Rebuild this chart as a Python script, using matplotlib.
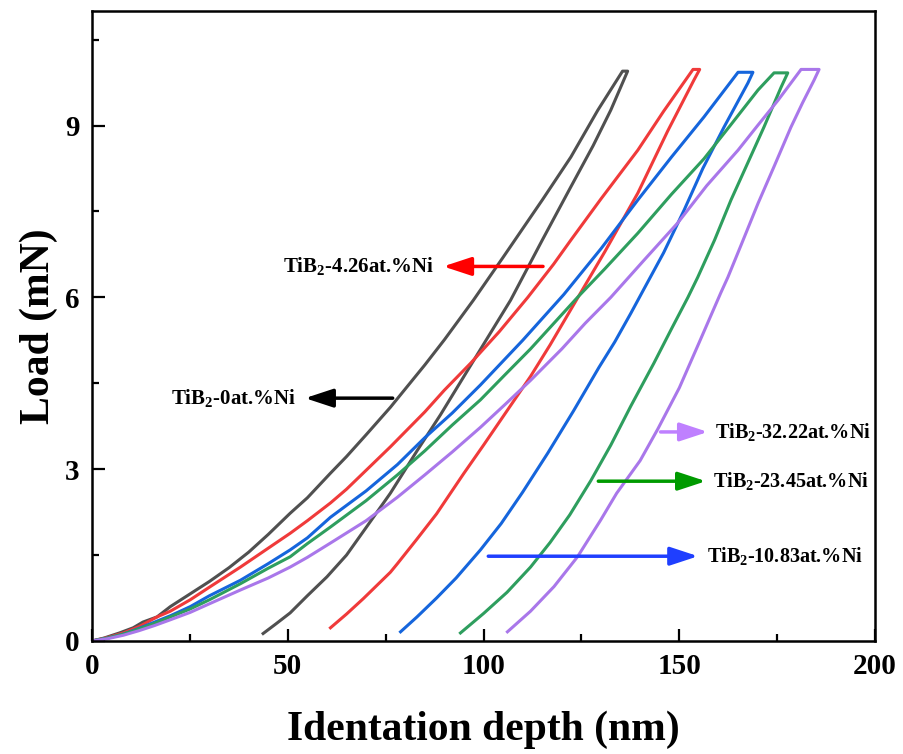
import matplotlib
matplotlib.use('Agg')
import matplotlib.pyplot as plt
from matplotlib.ticker import MultipleLocator

plt.rcParams['font.family'] = ['Liberation Serif', 'DejaVu Serif']
plt.rcParams['font.weight'] = 'bold'
plt.rcParams['mathtext.default'] = 'regular'

# Curvas carga-descarga (profundidad en nm, carga en mN)
depth_0 = [0, 3, 7, 10.5, 13, 16.6, 20, 25, 30, 35, 40, 45, 50.6, 55, 60.9, 65, 70, 76.2, 80, 85, 90,
           97.4, 105, 110, 115, 122.3, 129.2, 135.5,
           136.8, 132.5, 128, 122.3, 115, 106.9, 100, 94.9, 89, 83.1, 76.2, 70, 65, 60, 55, 50.6, 47, 43.7]
load_0 = [0, 0.05, 0.14, 0.23, 0.33, 0.42, 0.6, 0.82, 1.04, 1.28, 1.55, 1.86, 2.23, 2.5, 2.93, 3.22, 3.6,
          4.08, 4.4, 4.82, 5.26, 5.95, 6.7, 7.2, 7.7, 8.45, 9.27, 9.95,
          9.95, 9.27, 8.65, 7.93, 7.0, 5.95, 5.18, 4.61, 3.95, 3.33, 2.58, 1.98, 1.5, 1.12, 0.79, 0.49, 0.3, 0.13]

depth_4 = [0, 4, 8, 12, 16.6, 20, 25.1, 30, 37.9, 45, 50.6, 55, 60.9, 65, 70, 76.2, 85, 90, 96.7, 104,
           111.3, 117.9, 122.3, 130, 139.4, 146, 153.5,
           155.2, 153.7, 147, 139.4, 131, 123, 117, 112, 106, 100, 94.9, 88, 83, 78, 76.2, 72, 69.3, 65, 60.9]
load_4 = [0, 0.06, 0.14, 0.25, 0.42, 0.52, 0.72, 0.94, 1.29, 1.62, 1.88, 2.1, 2.41, 2.65, 2.98, 3.39, 4.0,
          4.38, 4.85, 5.4, 6.0, 6.58, 7.0, 7.72, 8.57, 9.25, 9.98,
          9.98, 9.79, 8.9, 7.82, 6.8, 5.87, 5.17, 4.62, 4.02, 3.42, 2.92, 2.22, 1.78, 1.35, 1.2, 0.92, 0.74,
          0.47, 0.23]

depth_10 = [0, 4, 8, 12, 16, 20, 25.1, 30, 37.9, 45, 50.6, 55, 60.9, 70, 78, 85, 92, 99.2, 110, 120.5,
            130, 139.4, 148, 156.3, 165,
            168.8, 167.5, 161.4, 156, 151.2, 146, 141, 137.6, 133.5, 129.5, 123, 116.4, 110, 104.5, 99.2,
            93, 88, 83, 78.8]
load_10 = [0, 0.05, 0.12, 0.22, 0.33, 0.44, 0.6, 0.79, 1.06, 1.35, 1.59, 1.8, 2.16, 2.62, 3.08, 3.55,
           3.98, 4.47, 5.25, 6.05, 6.85, 7.7, 8.45, 9.15, 9.93,
           9.93, 9.74, 8.97, 8.25, 7.52, 6.78, 6.15, 5.72, 5.22, 4.78, 4.02, 3.28, 2.6, 2.05, 1.59,
           1.1, 0.75, 0.42, 0.16]

depth_23 = [0, 4, 8, 12, 16, 20, 25.1, 30, 37.9, 45, 50.6, 55, 60.9, 70, 78, 85, 92, 99.2, 105.5, 112,
            118, 124, 131, 139.4, 148, 156.3, 163, 170.1, 174.2,
            177.7, 176, 171.6, 167.5, 163.2, 159, 154.7, 152.2, 148, 143.5, 137.6, 132.5, 127.4, 122, 117,
            112, 106, 100, 94.1]
load_23 = [0, 0.05, 0.12, 0.21, 0.31, 0.42, 0.56, 0.72, 1.0, 1.27, 1.47, 1.7, 1.99, 2.45, 2.9, 3.32,
           3.77, 4.21, 4.65, 5.1, 5.55, 6.0, 6.5, 7.12, 7.8, 8.42, 9.0, 9.62, 9.92,
           9.92, 9.67, 8.97, 8.35, 7.7, 7.0, 6.35, 6.0, 5.45, 4.85, 4.1, 3.42, 2.8, 2.2, 1.72,
           1.29, 0.85, 0.48, 0.14]

depth_32 = [0, 4, 8, 12, 16, 20, 25.1, 30, 37.9, 45, 50.6, 55, 60.9, 70, 78, 85, 92, 99.2, 105.5, 112,
            120, 126, 132.5, 141, 149.6, 157, 165, 170, 175.2, 181.1,
            185.7, 184.4, 181.5, 178.5, 174.3, 170.1, 166, 162.4, 160.6, 155, 150, 144.5, 140, 134, 129.9,
            124, 118, 112, 106.1]
load_32 = [0, 0.04, 0.1, 0.18, 0.27, 0.37, 0.5, 0.65, 0.89, 1.1, 1.29, 1.46, 1.71, 2.1, 2.51, 2.9, 3.3,
           3.73, 4.13, 4.55, 5.1, 5.55, 6.0, 6.65, 7.3, 7.95, 8.57, 9.0, 9.44, 9.98,
           9.98, 9.79, 9.4, 8.97, 8.3, 7.64, 6.95, 6.35, 6.08, 5.2, 4.42, 3.7, 3.15, 2.58, 2.11,
           1.47, 0.95, 0.52, 0.16]

labels = ['TiB$_2$-0at.%Ni', 'TiB$_2$-4.26at.%Ni', 'TiB$_2$-10.83at.%Ni',
          'TiB$_2$-23.45at.%Ni', 'TiB$_2$-32.22at.%Ni']

fig = plt.figure(figsize=(9.04, 7.54), dpi=100)
ax = fig.add_axes([0.1018, 0.1499, 0.8662, 0.8355])

ax.plot(depth_0, load_0, color='#505050', lw=2.2)
ax.plot(depth_4, load_4, color='#f03a3a', lw=2.2)
ax.plot(depth_10, load_10, color='#1565dc', lw=2.2)
ax.plot(depth_23, load_23, color='#2e9e5e', lw=2.2)
ax.plot(depth_32, load_32, color='#a977ea', lw=2.2)

# Flechas y etiquetas
flecha = '-|>,head_length=0.85,head_width=0.28'
ax.annotate('', xy=(89, 6.54), xytext=(115.9, 6.54),
            arrowprops=dict(arrowstyle=flecha, color='#ff0000', lw=2.5, mutation_scale=20))
ax.text(87.5, 6.54, labels[1], ha='right', va='center', fontsize=15)

ax.annotate('', xy=(53.7, 4.24), xytext=(77.5, 4.24),
            arrowprops=dict(arrowstyle=flecha, color='black', lw=2.5, mutation_scale=20))
ax.text(52, 4.24, labels[0], ha='right', va='center', fontsize=15)

ax.annotate('', xy=(158, 3.65), xytext=(144.5, 3.65),
            arrowprops=dict(arrowstyle=flecha, color='#bf80ff', lw=2.5, mutation_scale=20))
ax.text(159, 3.65, labels[4], ha='left', va='center', fontsize=14.5)

ax.annotate('', xy=(157.5, 2.79), xytext=(128.6, 2.79),
            arrowprops=dict(arrowstyle=flecha, color='#009a00', lw=2.5, mutation_scale=20))
ax.text(158.5, 2.79, labels[3], ha='left', va='center', fontsize=14.5)

ax.annotate('', xy=(155.5, 1.48), xytext=(100.5, 1.48),
            arrowprops=dict(arrowstyle=flecha, color='#1f3fff', lw=2.5, mutation_scale=20))
ax.text(157, 1.48, labels[2], ha='left', va='center', fontsize=14.5)

ax.set_xlim(0, 200)
ax.set_ylim(0, 11)
ax.xaxis.set_major_locator(MultipleLocator(50))
ax.xaxis.set_minor_locator(MultipleLocator(25))
ax.yaxis.set_major_locator(MultipleLocator(3))
ax.yaxis.set_minor_locator(MultipleLocator(1.5))
ax.tick_params(which='both', direction='in', top=False, right=False, width=1.6)
ax.tick_params(which='major', length=9, labelsize=21, pad=9)
ax.tick_params(which='minor', length=5)
for s in ax.spines.values():
    s.set_linewidth(1.8)

ax.set_xlabel('Identation depth (nm)', fontsize=30, fontweight='bold', labelpad=22)
ax.set_ylabel('Load (mN)', fontsize=30, fontweight='bold', labelpad=5)

fig.savefig('out.png', dpi=100)
